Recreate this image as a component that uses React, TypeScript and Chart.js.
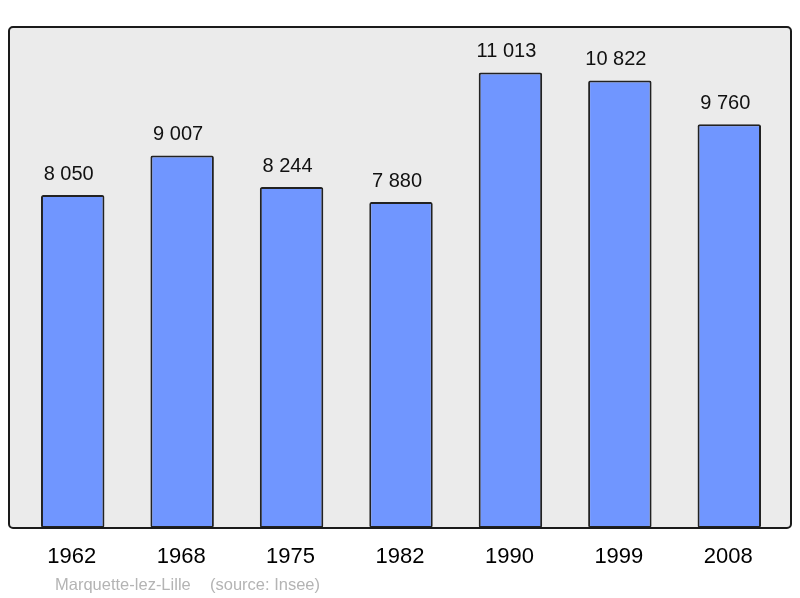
import React, { useEffect, useRef } from "react";
import { Chart, registerables } from "chart.js";

Chart.register(...registerables);

const years = ["1962", "1968", "1975", "1982", "1990", "1999", "2008"];
const population = [8050, 9007, 8244, 7880, 11013, 10822, 9760];
const townName = "Marquette-lez-Lille";
const sourceText = "(source: Insee)";

const fmt = (v: number) => {
  const s = String(v);
  return s.length > 3 ? s.slice(0, s.length - 3) + " " + s.slice(s.length - 3) : s;
};

const FONT = "'Liberation Sans', Arial, sans-serif";

const framePlugin = {
  id: "frame",
  beforeDatasetsDraw(chart: any) {
    const { ctx, chartArea } = chart;
    const l = chartArea.left - 9;
    const r = chartArea.right + 7;
    const t = chartArea.top;
    const b = chartArea.bottom;
    ctx.save();
    ctx.beginPath();
    ctx.roundRect(l, t, r - l, b - t, 4);
    ctx.fillStyle = "#ebebeb";
    ctx.fill();
    ctx.restore();
  },
  afterDatasetsDraw(chart: any) {
    const { ctx, chartArea, scales } = chart;
    const l = chartArea.left - 9;
    const r = chartArea.right + 7;
    const t = chartArea.top;
    const b = chartArea.bottom;
    ctx.save();
    ctx.beginPath();
    ctx.roundRect(l, t, r - l, b - t, 4);
    ctx.lineWidth = 2;
    ctx.strokeStyle = "#1a1a1a";
    ctx.stroke();

    const meta = chart.getDatasetMeta(0);
    ctx.fillStyle = "#111";
    ctx.textAlign = "center";
    ctx.textBaseline = "middle";
    ctx.font = `20px ${FONT}`;
    meta.data.forEach((bar: any, i: number) => {
      ctx.fillText(fmt(population[i]), bar.x - 4, bar.y - 21);
    });
    ctx.fillStyle = "#000";
    ctx.font = `22px ${FONT}`;
    years.forEach((y, i) => {
      ctx.fillText(y, scales.x.getPixelForValue(i) - 1, 557);
    });
    ctx.fillStyle = "#b4b4b4";
    ctx.font = `16.5px ${FONT}`;
    ctx.textAlign = "left";
    ctx.fillText(townName, 55, 585);
    ctx.fillText(sourceText, 210, 585);
    ctx.restore();
  },
};

export default function App() {
  const ref = useRef<HTMLCanvasElement>(null);
  useEffect(() => {
    if (!ref.current) return;
    const chart = new Chart(ref.current, {
      type: "bar",
      data: {
        labels: years,
        datasets: [
          {
            data: population,
            backgroundColor: "#7096ff",
            borderColor: "#222",
            borderWidth: 2,
            borderRadius: 2,
            borderSkipped: false,
            barPercentage: 0.58,
            categoryPercentage: 1,
          },
        ],
      },
      options: {
        animation: false,
        responsive: false,
        maintainAspectRatio: false,
        layout: { padding: { left: 18, right: 16, top: 27, bottom: 70 } },
        plugins: { legend: { display: false }, tooltip: { enabled: false } },
        scales: {
          x: { display: false },
          y: { display: false, min: 0, max: 12114 },
        },
      },
      plugins: [framePlugin],
    });
    return () => chart.destroy();
  }, []);
  return (
    <div style={{ position: "fixed", left: 0, top: 0, width: 800, height: 598, background: "#fff" }}>
      <canvas ref={ref} width={800} height={598} style={{ width: 800, height: 598 }} />
    </div>
  );
}
